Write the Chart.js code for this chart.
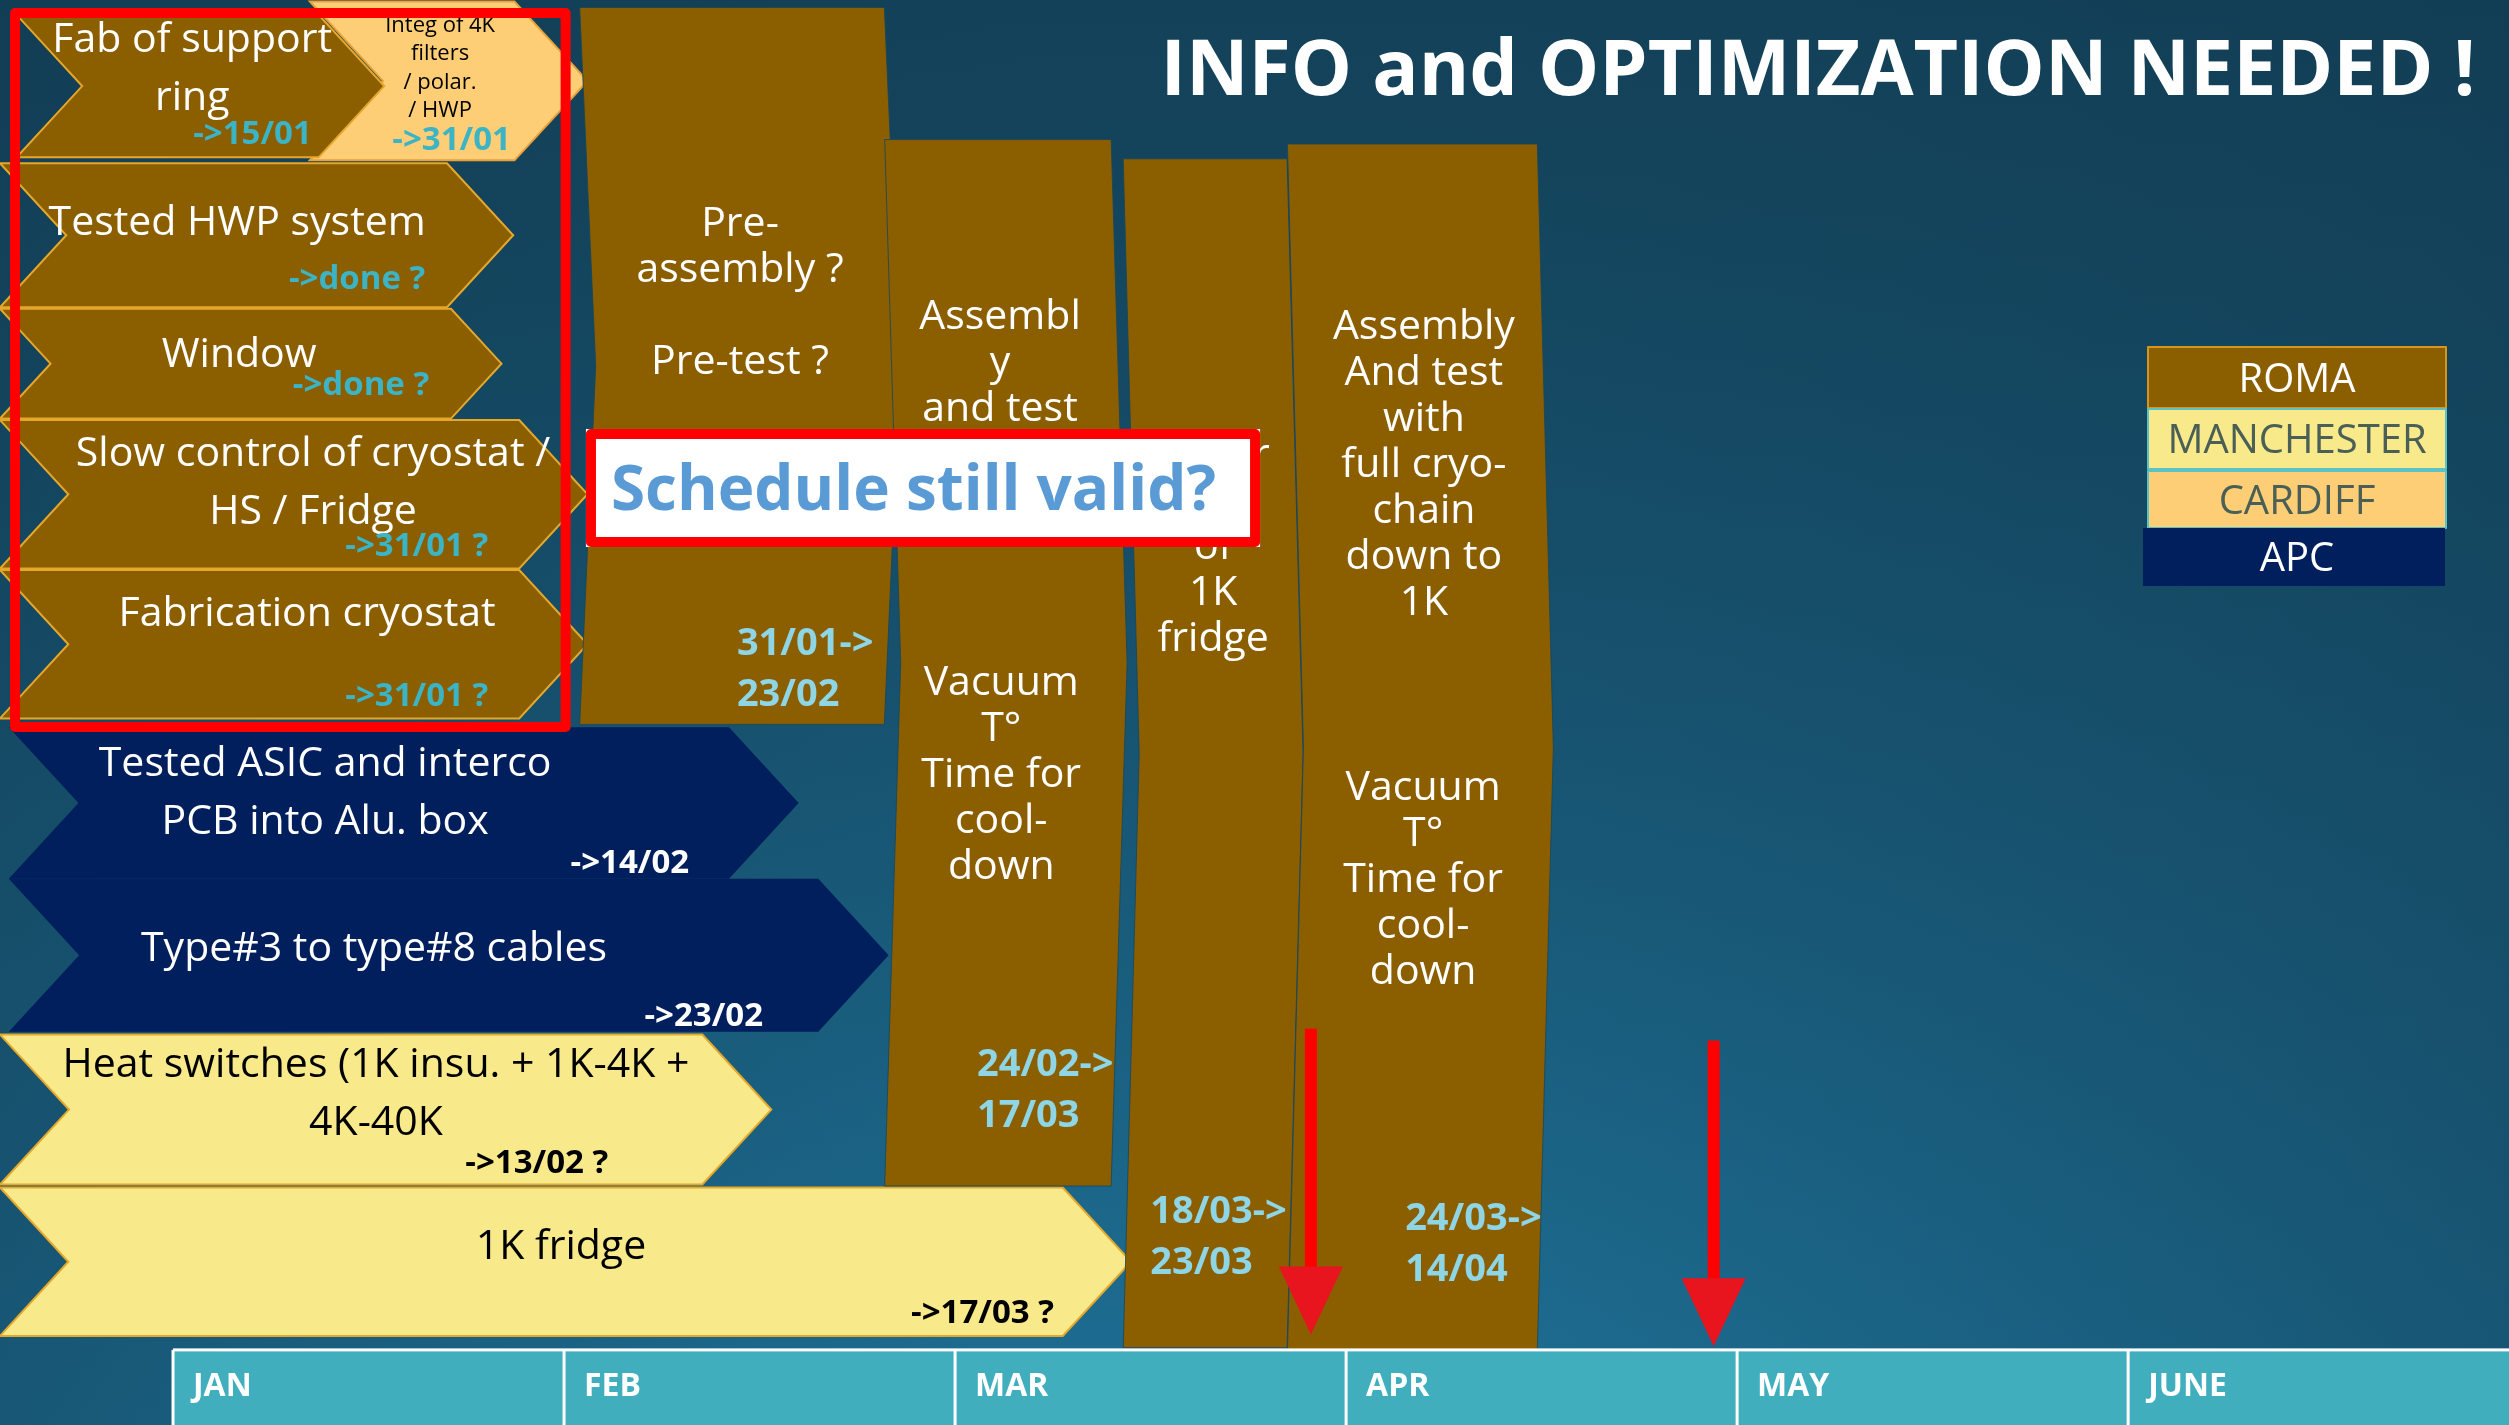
<!DOCTYPE html>
<html>
<head>
<meta charset="utf-8">
<script src="https://cdn.jsdelivr.net/npm/chart.js@4.4.1/dist/chart.umd.min.js"></script>
<style>
  html, body { margin: 0; padding: 0; background: #164862; overflow: hidden; }
  #wrap { width: 2509px; height: 1425px; }
</style>
</head>
<body>
<div id="wrap"><canvas id="chart" width="2509" height="1425"></canvas></div>
<script>
// x axis: 1 unit = 1 month, 0 = start of JAN. y axis: rows counted from the top
const X_MIN = -0.4425
const X_MAX = 5.974
const Y_MAX = 9.6

// ---- data ----
const months = ['JAN', 'FEB', 'MAR', 'APR', 'MAY', 'JUNE']
const teams = ['ROMA', 'MANCHESTER', 'CARDIFF', 'APC']
const teamColors = ['#8B5E00', '#F8E98A', '#FECE76', '#001F5C']

// horizontal work packages (chevrons)
const taskLabels = [
  ['Integ of 4K', 'filters', '/ polar.', '/ HWP'],
  ['Fab of support', 'ring'],
  ['Tested HWP system'],
  ['Window'],
  ['Slow control of cryostat /', 'HS / Fridge'],
  ['Fabrication cryostat'],
  ['Tested ASIC and interco', 'PCB into Alu. box'],
  ['Type#3 to type#8 cables'],
  ['Heat switches (1K insu. + 1K-4K +', '4K-40K'],
  ['1K fridge']
]
const taskTeam = ['CARDIFF', 'ROMA', 'ROMA', 'ROMA', 'ROMA', 'ROMA', 'APC', 'APC', 'MANCHESTER', 'MANCHESTER']
const taskStart = [0.35, -0.40, -0.4425, -0.4425, -0.4425, -0.4425, -0.42, -0.42, -0.4425, -0.4425]
const taskEnd = [1.06, 0.54, 0.87, 0.84, 1.06, 1.06, 1.60, 1.83, 1.53, 2.45]
const taskTop = [0.01, 0.10, 1.10, 2.08, 2.83, 3.84, 4.90, 5.92, 6.97, 8.00]
const taskBottom = [1.08, 1.06, 2.07, 2.82, 3.83, 4.84, 5.92, 6.95, 7.98, 9.00]
const taskDue = ['->31/01', '->15/01', '->done ?', '->done ?', '->31/01 ?', '->31/01 ?', '->14/02', '->23/02', '->13/02 ?', '->17/03 ?']

// vertical integration stages (all ROMA)
const stageTitles = [
  ['Pre-', 'assembly ?', '', 'Pre-test ?'],
  ['Assembl', 'y', 'and test'],
  ['Integr', 'ation', 'of', '1K', 'fridge'],
  ['Assembly', 'And test', 'with', 'full cryo-', 'chain', 'down to', '1K']
]
const stageNotes = [
  [],
  ['Vacuum', 'T°', 'Time for', 'cool-', 'down'],
  [],
  ['Vacuum', 'T°', 'Time for', 'cool-', 'down']
]
const stageDates = [['31/01->', '23/02'], ['24/02->', '17/03'], ['18/03->', '23/03'], ['24/03->', '14/04']]
const stageStart = [1.04, 1.82, 2.43, 2.85]
const stageEnd = [1.86, 2.44, 2.89, 3.53]
const stageTop = [0.05, 0.94, 1.07, 0.97]
const stageBottom = [4.88, 7.99, 9.08, 9.10]

// milestones (red arrows)
const milestoneAt = [2.91, 3.94]
const milestoneFrom = [6.93, 7.01]
const milestoneTo = [8.99, 9.07]

// ---- text placement (data units) ----
const taskLabelPos = [[0.683, 0.441], [0.049, 0.445], [0.164, 1.482], [0.169, 2.371], [0.358, 3.234],
  [0.343, 4.116], [0.389, 5.325], [0.514, 6.373], [0.519, 7.353], [0.992, 8.380]]
const taskDuePos = [[0.864, 0.930], [0.355, 0.889], [0.645, 1.866], [0.655, 2.580], [0.806, 3.665],
  [0.806, 4.675], [1.320, 5.800], [1.509, 6.831], [1.113, 7.821], [2.253, 8.832]]
const stageTitlePos = [[1.450, 1.957], [2.115, 2.425], [2.660, 3.668], [3.199, 3.116]]
const stageNotePos = [null, [2.118, 5.204], null, [3.197, 5.911]]
const stageDatePos = [[1.442, 4.490], [2.056, 7.326], [2.499, 8.316], [3.151, 8.364]]

const FONT = '"Open Sans", "DejaVu Sans", sans-serif'
const TEXT_SHIFT = 3  // 'middle' baseline sits a little high for this face

function teamColor(team) {
  return teamColors[teams.indexOf(team)]
}

function chevron(ctx, x0, x1, y0, y1, d) {
  const ym = (y0 + y1) / 2
  ctx.beginPath()
  ctx.moveTo(x0, y0)
  ctx.lineTo(x1 - d, y0)
  ctx.lineTo(x1, ym)
  ctx.lineTo(x1 - d, y1)
  ctx.lineTo(x0, y1)
  ctx.lineTo(x0 + d, ym)
  ctx.closePath()
}

function drawLines(ctx, lines, x, yc, lh, font, color, align) {
  ctx.font = font
  ctx.fillStyle = color
  ctx.textAlign = align || 'center'
  ctx.textBaseline = 'middle'
  const y0 = yc - (lines.length - 1) * lh / 2 + TEXT_SHIFT
  lines.forEach((t, i) => ctx.fillText(t, x, y0 + i * lh))
}

const backgroundPlugin = {
  id: 'slideBackground',
  beforeDraw(chart) {
    const ctx = chart.ctx
    const w = chart.width, h = chart.height
    const g = ctx.createLinearGradient(0, 0, 0, h)
    g.addColorStop(0, '#154962')
    g.addColorStop(1, '#1D6D92')
    ctx.fillStyle = g
    ctx.fillRect(0, 0, w, h)
    // darker towards the right and left edges
    const r = ctx.createRadialGradient(1250, 1500, 300, 1250, 1500, 2000)
    r.addColorStop(0, 'rgba(17,58,80,0)')
    r.addColorStop(1, 'rgba(17,58,80,0.75)')
    ctx.fillStyle = r
    ctx.fillRect(0, 0, w, h)
  }
}

const ganttPlugin = {
  id: 'gantt',
  afterDatasetsDraw(chart) {
    const ctx = chart.ctx
    const x = chart.scales.x, y = chart.scales.y
    const px = v => x.getPixelForValue(v)
    const py = v => y.getPixelForValue(v)
    ctx.save()

    // horizontal chevrons
    taskLabels.forEach((lines, i) => {
      const x0 = px(taskStart[i]), x1 = px(taskEnd[i])
      const y0 = py(taskTop[i]), y1 = py(taskBottom[i])
      const team = taskTeam[i]
      chevron(ctx, x0, x1, y0, y1, 0.46 * (y1 - y0))
      ctx.fillStyle = teamColor(team)
      ctx.fill()
      if (team !== 'APC') {
        ctx.lineWidth = 2
        ctx.strokeStyle = team === 'CARDIFF' ? '#E9A23A' : '#E6A82A'
        ctx.stroke()
      }
      const dark = team === 'MANCHESTER' || team === 'CARDIFF'
      const small = team === 'CARDIFF'
      drawLines(ctx, lines, px(taskLabelPos[i][0]), py(taskLabelPos[i][1]),
        small ? 28.5 : 58, (small ? '22px ' : '41px ') + FONT, dark ? '#000000' : '#FFFFFF')
      const dueColor = team === 'APC' ? '#FFFFFF' : (team === 'MANCHESTER' ? '#000000' : '#3BB4C6')
      drawLines(ctx, [taskDue[i]], px(taskDuePos[i][0]), py(taskDuePos[i][1]), 0,
        'bold 33px ' + FONT, dueColor, 'right')
    })

    // vertical stages
    stageTitles.forEach((lines, i) => {
      chevron(ctx, px(stageStart[i]), px(stageEnd[i]), py(stageTop[i]), py(stageBottom[i]), 16)
      ctx.fillStyle = teamColor('ROMA')
      ctx.fill()
      ctx.lineWidth = 1
      ctx.strokeStyle = 'rgba(20,70,95,0.8)'
      ctx.stroke()
      drawLines(ctx, lines, px(stageTitlePos[i][0]), py(stageTitlePos[i][1]), 46, '41px ' + FONT, '#FFFFFF')
      if (stageNotePos[i]) {
        drawLines(ctx, stageNotes[i], px(stageNotePos[i][0]), py(stageNotePos[i][1]), 46, '41px ' + FONT, '#FFFFFF')
      }
      drawLines(ctx, stageDates[i], px(stageDatePos[i][0]), py(stageDatePos[i][1]), 51,
        'bold 38px ' + FONT, '#8ED5E6', 'left')
    })

    // red frame round the first packages
    ctx.lineWidth = 10
    ctx.strokeStyle = '#FF0000'
    ctx.lineJoin = 'round'
    ctx.strokeRect(px(-0.404), py(0.088), px(1.004) - px(-0.404), py(4.898) - py(0.088))

    // callout
    const bx0 = px(1.056), bx1 = px(2.780), by0 = py(2.89), by1 = py(3.685)
    ctx.fillStyle = '#FFFFFF'
    ctx.fillRect(bx0, by0, bx1 - bx0, by1 - by0)
    ctx.lineWidth = 10
    ctx.strokeStyle = '#FF0000'
    ctx.strokeRect(bx0 + 5, by0 + 5, bx1 - bx0 - 10, by1 - by0 - 10)
    drawLines(ctx, ['Schedule still valid?'], bx0 + 25, (by0 + by1) / 2 + 1, 0,
      'bold 62px ' + FONT, '#5B9BD5', 'left')

    // milestone arrows
    milestoneAt.forEach((m, i) => {
      const ax = px(m), top = py(milestoneFrom[i]), tip = py(milestoneTo[i])
      const headH = 68, headW = 64
      ctx.fillStyle = '#FF0000'
      ctx.fillRect(ax - 6, top, 12, tip - headH - top + 2)
      ctx.fillStyle = '#E8141E'
      ctx.beginPath()
      ctx.moveTo(ax - headW / 2, tip - headH)
      ctx.lineTo(ax + headW / 2, tip - headH)
      ctx.lineTo(ax, tip)
      ctx.closePath()
      ctx.fill()
    })

    // month band
    const bandTop = py(9.094), bandBottom = py(Y_MAX)
    const bandLeft = px(0)
    ctx.fillStyle = '#41AEBE'
    ctx.fillRect(bandLeft, bandTop, chart.width - bandLeft, bandBottom - bandTop)
    ctx.fillStyle = '#FFFFFF'
    ctx.fillRect(bandLeft, bandTop - 1.5, chart.width - bandLeft, 3)
    months.forEach((mo, i) => {
      const mx = px(i)
      ctx.fillStyle = '#FFFFFF'
      ctx.fillRect(mx - 1.5, bandTop, 3, bandBottom - bandTop)
      drawLines(ctx, [mo], mx + 20, (bandTop + bandBottom) / 2 - 4, 0, 'bold 32px ' + FONT, '#FFFFFF', 'left')
    })

    // legend
    const legendBoxes = [[2148, 347, 298, 61], [2148, 409, 298, 60], [2148, 471, 298, 57], [2143, 528, 302, 58]]
    const legendStroke = ['#D7961A', '#5CC3C4', '#5CC3C4', null]
    const legendText = ['#FFFFFF', '#4A5F55', '#4A5F55', '#FFFFFF']
    teams.forEach((t, i) => {
      const b = legendBoxes[i]
      ctx.fillStyle = teamColors[i]
      ctx.fillRect(b[0], b[1], b[2], b[3])
      if (legendStroke[i]) {
        ctx.lineWidth = 2
        ctx.strokeStyle = legendStroke[i]
        ctx.strokeRect(b[0], b[1], b[2], b[3])
      }
      drawLines(ctx, [t], 2297, b[1] + b[3] / 2, 0, '40px ' + FONT, legendText[i])
    })

    // title
    ctx.font = 'bold 77px ' + FONT
    ctx.fillStyle = '#FFFFFF'
    ctx.textAlign = 'center'
    ctx.textBaseline = 'alphabetic'
    ctx.fillText('INFO and OPTIMIZATION NEEDED !', 1818, 95, 1320)

    ctx.restore()
  }
}

const ctx = document.getElementById('chart').getContext('2d')
new Chart(ctx, {
  type: 'scatter',
  data: { datasets: [{ data: [], pointRadius: 0 }] },
  options: {
    responsive: false,
    animation: false,
    devicePixelRatio: 1,
    layout: { padding: 0 },
    plugins: { legend: { display: false }, tooltip: { enabled: false } },
    scales: {
      x: { type: 'linear', min: X_MIN, max: X_MAX, display: false },
      y: { type: 'linear', min: 0, max: Y_MAX, reverse: true, display: false }
    }
  },
  plugins: [backgroundPlugin, ganttPlugin]
})
</script>
</body>
</html>
